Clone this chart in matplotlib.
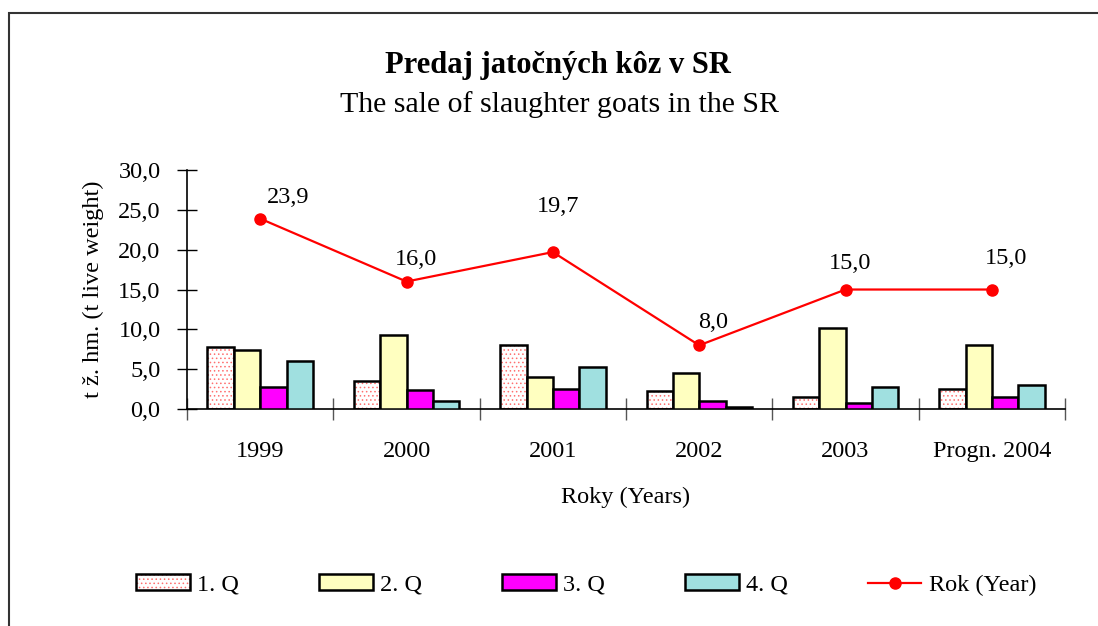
import matplotlib.pyplot as plt
import numpy as np
from matplotlib.patches import Patch, Rectangle
from matplotlib.lines import Line2D
from matplotlib.legend_handler import HandlerTuple

plt.rcParams['font.family'] = ['Liberation Serif', 'DejaVu Serif']
plt.rcParams['hatch.linewidth'] = 0.6

years = ['1999', '2000', '2001', '2002', '2003', 'Progn. 2004']
q1 = [7.8, 3.5, 8.0, 2.3, 1.5, 2.5]
q2 = [7.4, 9.3, 4.0, 4.5, 10.2, 8.0]
q3 = [2.8, 2.4, 2.5, 1.0, 0.7, 1.5]
q4 = [6.0, 1.0, 5.3, 0.2, 2.8, 3.0]
total = [23.9, 16.0, 19.7, 8.0, 15.0, 15.0]
series_labels = ['1. Q', '2. Q', '3. Q', '4. Q']
line_label = 'Rok (Year)'

# label offsets (points) for the yearly values
label_offsets = [(20, 8), (7, 8), (4, 25), (10, 9), (3, 11), (10, 15)]

fig = plt.figure(figsize=(10.98, 6.26), dpi=100)
ax = fig.add_axes([0.1703, 0.3466, 0.7997, 0.3818])

# outer frame
fig.patches.append(Rectangle((9 / 1098, -0.1), 1.2, 1 - 13 / 626 + 0.1,
                             transform=fig.transFigure, fill=False,
                             edgecolor='#333333', linewidth=1.5))

x = np.arange(len(years))
w = 0.18
offs = [-1.5 * w, -0.5 * w, 0.5 * w, 1.5 * w]

# Q1: pink dotted pattern
ax.bar(x + offs[0], q1, w, color='white', edgecolor='#ff7070', hatch='....',
       linewidth=0, zorder=2)
ax.bar(x + offs[0], q1, w, fill=False, edgecolor='black', linewidth=1.8, zorder=3)
ax.bar(x + offs[1], q2, w, color='#ffffc0', edgecolor='black', linewidth=1.8, zorder=3)
ax.bar(x + offs[2], q3, w, color='#ff00ff', edgecolor='black', linewidth=1.8, zorder=3)
ax.bar(x + offs[3], q4, w, color='#a0e0e0', edgecolor='black', linewidth=1.8, zorder=3)

ax.plot(x, total, color='#ff0000', linewidth=1.6, marker='o', markersize=8, zorder=4)
for xi, v, off in zip(x, total, label_offsets):
    ax.annotate(f'{v:.1f}'.replace('.', ','), (xi, v), xytext=off,
                textcoords='offset points', ha='center', va='bottom', fontsize=17.5)

ax.set_xlim(-0.5, len(years) - 0.5)
ax.set_ylim(0, 30)
ax.set_yticks(np.arange(0, 31, 5))
ax.set_yticklabels([f'{v:.1f}'.replace('.', ',') for v in np.arange(0, 31, 5)])
ax.set_xticks(np.arange(-0.5, len(years), 1))
ax.set_xticklabels([])
ax.set_xticks(x, minor=True)
ax.set_xticklabels(years, minor=True)
ax.tick_params(axis='x', which='minor', length=0, labelsize=17.5, pad=23)
ax.tick_params(axis='x', which='major', direction='inout', length=16, width=1,
               color='#555555')
ax.tick_params(axis='y', direction='inout', length=14, width=1, labelsize=17.5, pad=12)
for s in ['top', 'right']:
    ax.spines[s].set_visible(False)
ax.spines['left'].set_linewidth(1.2)
ax.spines['bottom'].set_linewidth(1.2)

ax.set_xlabel('Roky (Years)', fontsize=17.5, labelpad=18)
ax.set_ylabel('t ž. hm. (t live weight)', fontsize=17.5, labelpad=10)

fig.text(0.508, 1 - 65 / 626, 'Predaj jatočných kôz v SR', ha='center', va='center',
         fontsize=22, fontweight='bold')
fig.text(0.510, 1 - 105 / 626, 'The sale of slaughter goats in the SR', ha='center',
         va='center', fontsize=21.5)

h1 = (Patch(facecolor='white', edgecolor='#ff7070', hatch='....', linewidth=0),
      Patch(fill=False, edgecolor='black', linewidth=1.8))
h2 = Patch(facecolor='#ffffc0', edgecolor='black', linewidth=1.8)
h3 = Patch(facecolor='#ff00ff', edgecolor='black', linewidth=1.8)
h4 = Patch(facecolor='#a0e0e0', edgecolor='black', linewidth=1.8)
h5 = Line2D([], [], color='#ff0000', linewidth=1.6, marker='o', markersize=8)
fig.legend([h1, h2, h3, h4, h5], series_labels + [line_label],
           handler_map={tuple: HandlerTuple(ndivide=1)},
           loc='center', bbox_to_anchor=(0.534, 1 - 585 / 626), ncol=5,
           frameon=False, fontsize=17.5, handlelength=2.2, handleheight=0.6,
           handletextpad=0.3, columnspacing=3.3)

fig.savefig('out.png', dpi=100)
